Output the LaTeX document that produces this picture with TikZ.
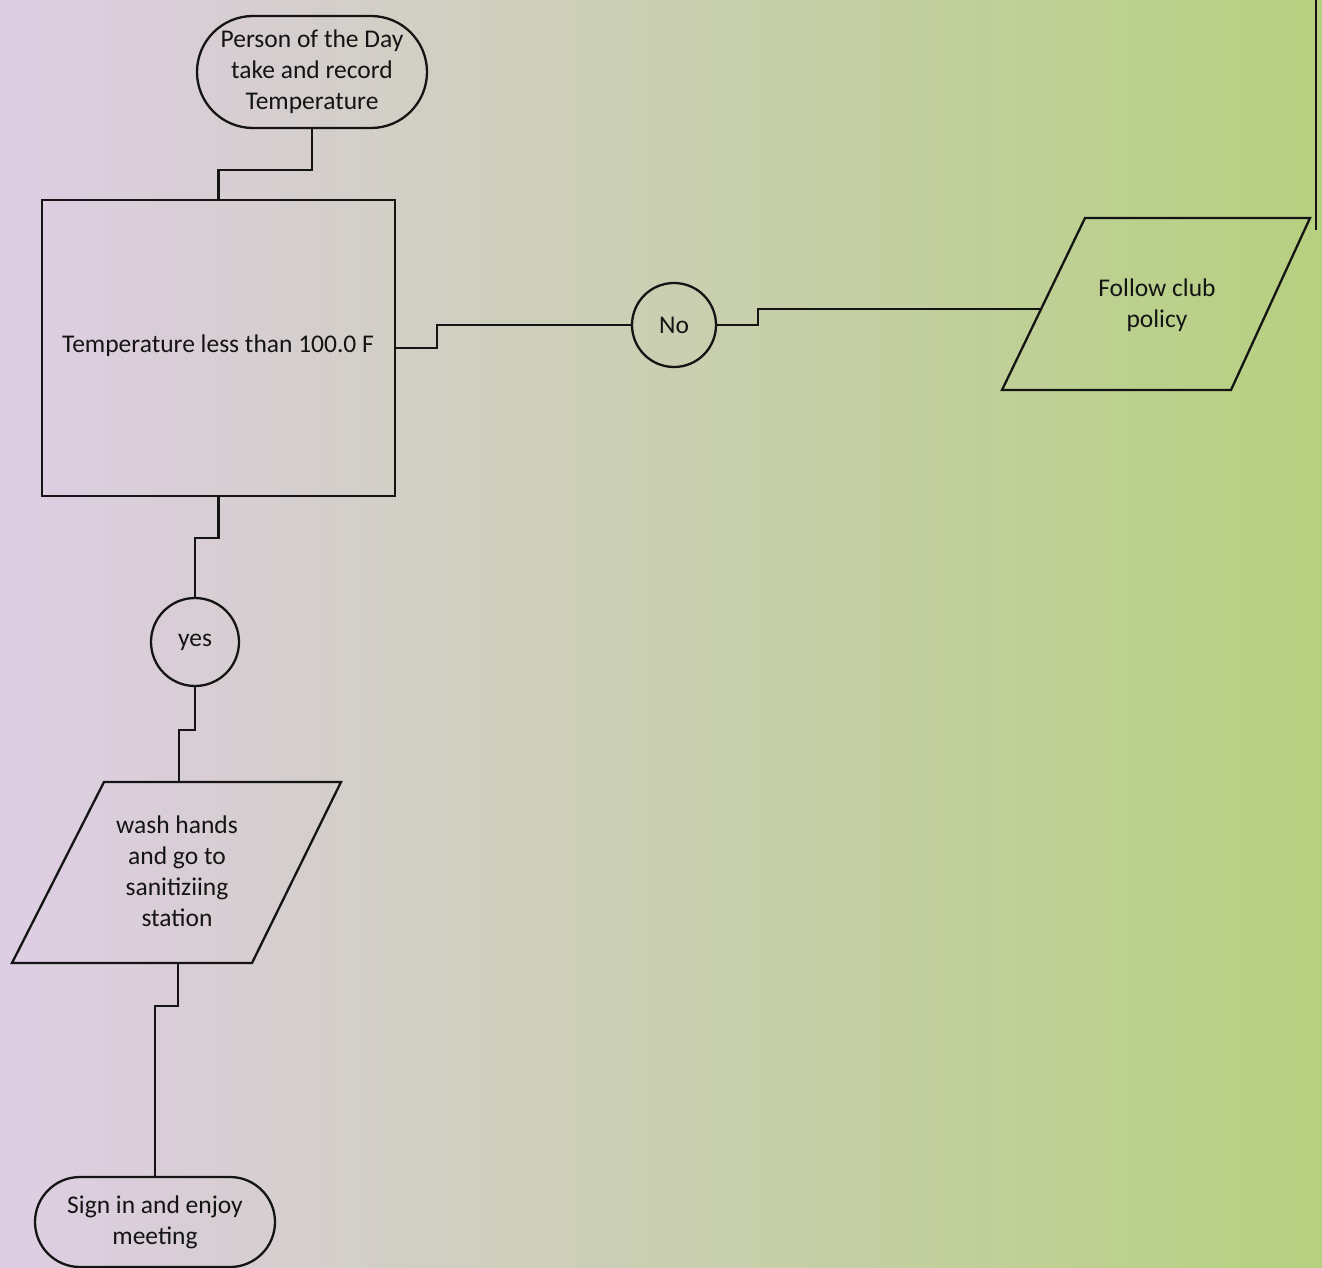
\documentclass[tikz,border=0pt]{standalone}
\usepackage{fontspec}
\setmainfont{Carlito}
\usetikzlibrary{shapes.misc,shapes.geometric}
\definecolor{bgleft}{RGB}{222,206,228}
\definecolor{bgmid}{RGB}{232,228,226}
\definecolor{bgright}{RGB}{182,208,128}
\definecolor{ink}{RGB}{20,20,20}
\tikzset{
  flowline/.style={draw=ink,line width=2.3pt},
  term/.style={rounded rectangle,draw=ink,line width=2.3pt,inner sep=0pt,align=center,font=\fontsize{25.5}{31}\selectfont},
  procbox/.style={rectangle,draw=ink,line width=2.3pt,inner sep=0pt,align=center,font=\fontsize{25.5}{31}\selectfont},
  conn/.style={circle,draw=ink,line width=2.3pt,inner sep=0pt,font=\fontsize{25.5}{31}\selectfont},
  txt/.style={align=center,inner sep=0pt,text=ink,font=\fontsize{25.5}{31}\selectfont},
}
\begin{document}
\begin{tikzpicture}[x=1pt,y=-1pt]
\useasboundingbox (0,0) rectangle (1322,1268);
\shade[left color=bgleft,middle color=bgmid,right color=bgright] (0,0) rectangle (1322,1268);
\draw[ink,line width=1.5pt] (1316,0) -- (1316,230);

% top terminal
\node[term,minimum width=230pt,minimum height=112pt,text=ink] (top) at (312,72) {Person of the Day\\take and record\\Temperature};
% decision box
\node[procbox,minimum width=353pt,minimum height=296pt,text=ink] (box) at (218.5,348) {};
\node[txt] (boxtext) at (218,346) {Temperature less than 100.0 F};
% No circle
\node[conn,minimum size=84pt,text=ink] (no) at (674,325) {No};
% Follow club policy parallelogram
\draw[flowline] (1085,218) -- (1310,218) -- (1231,390) -- (1002,390) -- cycle;
\coordinate (fc) at (1041,309);
\node[txt] (follow) at (1157,305) {Follow club\\policy};
% yes circle
\node[conn,minimum size=88pt,text=ink] (yes) at (195,642) {yes};
% wash parallelogram
\draw[flowline] (104,782) -- (341,782) -- (252,963) -- (12,963) -- cycle;
\coordinate (wt) at (179,782);
\coordinate (wb) at (178,963);
\node[txt] (wash) at (177,871) {wash hands\\and go to\\sanitiziing\\station};
% bottom terminal
\node[term,minimum width=240pt,minimum height=90pt,text=ink] (bot) at (155,1222) {Sign in and enjoy\\meeting};

% connectors
\draw[flowline] (top.south) -- (top.south |- 0,170) -| (box.north);
\draw[flowline] (box.east) -- (437,348) |- (no.west);
\draw[flowline] (no.east) -- (758,325) |- (fc);
\draw[flowline] (box.south) -- (box.south |- 0,538) -| (yes.north);
\draw[flowline] (yes.south) -- (yes.south |- 0,730) -| (wt);
\draw[flowline] (wb) -- (178,1006) -| (bot.north);
\end{tikzpicture}
\end{document}
